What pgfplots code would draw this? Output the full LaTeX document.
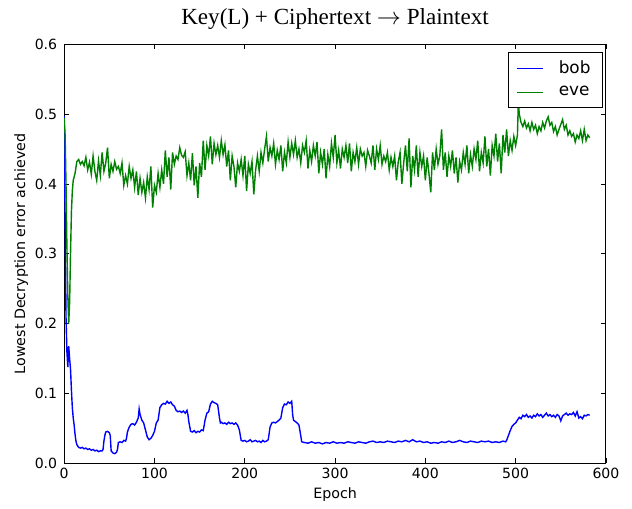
\documentclass[border=0pt]{standalone}
\usepackage{fontspec}
\setmainfont{DejaVu Sans}
\newfontfamily\titlefont{Liberation Serif}
\usepackage{pgfplots}
\pgfplotsset{compat=1.18}
\definecolor{mplblue}{rgb}{0,0,1}
\definecolor{mplgreen}{rgb}{0,0.5,0}
\pgfplotsset{
  legend image code/.code={\draw[mark repeat=2,mark phase=2,#1] plot coordinates {(0cm,0cm) (0.23cm,0cm) (0.46cm,0cm)};},
}
\begin{document}
\begin{tikzpicture}
\begin{axis}[
  scale only axis,
  width=270pt, height=209pt,
  xmin=0, xmax=600, ymin=0, ymax=0.6,
  xtick={0,100,...,600},
  ytick={0,0.1,...,0.6},
  tick align=inside,
  major tick length=2.5pt,
  tick style={black, line width=0.4pt},
  axis line style={line width=0.5pt},
  /pgf/number format/assume math mode=true,
  yticklabel style={/pgf/number format/.cd, fixed, fixed zerofill, precision=1},
  xticklabel style={yshift=1pt},
  ticklabel style={font=\fontsize{7}{8}\selectfont},
  label style={font=\fontsize{7.1}{8}\selectfont},
  xlabel={Epoch},
  xlabel style={yshift=2.5pt},
  ylabel={Lowest Decryption error achieved},
  ylabel style={yshift=-3.5pt},
  title={\titlefont\fontsize{11.5}{13}\selectfont Key(L) + Ciphertext $\rightarrow$ Plaintext},
  title style={yshift=-2pt},
  legend style={at={(1,1)}, anchor=north east, xshift=-1.5pt, yshift=-4pt,
    font=\fontsize{8.4}{10}\selectfont, draw=black,
    inner xsep=4pt, inner ysep=2pt, row sep=1pt,
    nodes={inner sep=2pt},
    /tikz/every odd column/.append style={column sep=5.5pt}},
  legend cell align=left,
]
\addplot[mplblue, line width=0.7pt] coordinates {
(0,0.497)(1,0.35)(2,0.21)(3,0.16)(4,0.138)(5,0.168)(6,0.150)(7,0.135)(8,0.105)(9,0.080)
(10,0.065)(11,0.055)(12,0.042)(13,0.032)(14,0.027)(16,0.023)(18,0.022)(20,0.023)(22,0.021)
(24,0.022)(26,0.020)(28,0.021)(30,0.019)(32,0.020)(34,0.018)(36,0.019)(38,0.017)(40,0.018)
(42,0.018)(43,0.020)(44,0.032)(45,0.040)(46,0.045)(48,0.046)(50,0.044)(51,0.040)(52,0.018)
(54,0.015)(56,0.014)(58,0.016)(59,0.020)(60,0.030)(62,0.031)(64,0.030)(66,0.033)(68,0.032)
(69,0.036)(70,0.045)(72,0.052)(74,0.056)(76,0.057)(78,0.055)(80,0.059)(82,0.065)(83,0.078)
(84,0.070)(86,0.062)(88,0.058)(90,0.048)(92,0.038)(94,0.034)(96,0.036)(98,0.040)(100,0.046)
(102,0.058)(104,0.062)(106,0.080)(108,0.084)(110,0.086)(112,0.085)(114,0.089)(116,0.086)
(118,0.088)(120,0.084)(122,0.082)(124,0.076)(126,0.074)(128,0.075)(130,0.073)(132,0.075)
(134,0.072)(136,0.076)(137,0.070)(138,0.060)(140,0.046)(142,0.045)(144,0.047)(146,0.044)
(148,0.046)(150,0.045)(152,0.048)(154,0.047)(156,0.062)(158,0.072)(160,0.074)(162,0.085)
(164,0.089)(166,0.087)(168,0.086)(170,0.084)(172,0.065)(173,0.058)(174,0.059)(176,0.057)
(178,0.058)(180,0.056)(182,0.059)(184,0.057)(186,0.058)(188,0.056)(190,0.058)(192,0.055)
(194,0.048)(196,0.033)(198,0.032)(200,0.033)(202,0.031)(204,0.032)(206,0.034)(208,0.031)
(210,0.032)(212,0.033)(214,0.031)(216,0.032)(218,0.030)(220,0.033)(222,0.031)(224,0.032)
(226,0.034)(228,0.052)(230,0.058)(232,0.059)(234,0.058)(236,0.060)(238,0.062)(240,0.065)
(242,0.080)(244,0.085)(246,0.084)(248,0.088)(250,0.086)(252,0.089)(253,0.070)(254,0.062)
(256,0.060)(258,0.058)(260,0.055)(262,0.040)(263,0.031)
(266,0.030)(270,0.029)(274,0.031)(278,0.029)(282,0.030)(286,0.028)(290,0.030)(294,0.029)
(298,0.031)(302,0.029)(306,0.030)(310,0.029)(314,0.031)(318,0.030)(322,0.029)(326,0.031)
(330,0.030)(334,0.029)(338,0.031)(342,0.032)(346,0.030)(350,0.031)(354,0.030)(358,0.032)
(362,0.031)(366,0.030)(370,0.032)(374,0.031)(378,0.033)(382,0.031)(386,0.034)(390,0.031)
(394,0.032)(398,0.030)(402,0.031)(406,0.029)(410,0.030)(414,0.029)(418,0.031)(422,0.030)
(426,0.032)(430,0.030)(434,0.031)(438,0.033)(442,0.031)(446,0.030)(450,0.032)(454,0.031)
(458,0.030)(462,0.032)(466,0.031)(470,0.032)(474,0.030)(478,0.031)(482,0.030)(486,0.032)
(489,0.031)(490,0.033)(492,0.040)(494,0.047)(496,0.053)(498,0.056)(500,0.058)(502,0.062)
(504,0.066)(506,0.064)(508,0.069)(510,0.067)(512,0.070)(514,0.066)(516,0.068)(518,0.065)
(520,0.069)(522,0.067)(524,0.071)(526,0.068)(528,0.070)(530,0.066)(532,0.069)(534,0.072)
(536,0.068)(538,0.070)(540,0.067)(542,0.069)(544,0.066)(546,0.070)(548,0.068)(550,0.061)
(552,0.068)(554,0.070)(556,0.072)(558,0.069)(560,0.071)(562,0.070)(564,0.073)(566,0.068)
(568,0.074)(570,0.065)(572,0.067)(574,0.064)(576,0.069)(578,0.068)(580,0.070)(582,0.069)
};
\addlegendentry{bob}
\addplot[mplgreen, line width=0.7pt] coordinates {
(0,0.494)(1,0.47)(2,0.40)(3,0.31)(4,0.24)(5,0.20)(6,0.23)(7,0.30)(8,0.36)(9,0.39)(10,0.405)
(12,0.415)(14,0.432)(16,0.435)(18,0.428)(20,0.432)(22,0.426)(24,0.438)(26,0.420)(28,0.431)
(30,0.414)(32,0.440)(34,0.418)(36,0.405)(38,0.433)(40,0.412)(42,0.445)(44,0.418)(46,0.430)
(48,0.452)(50,0.408)(52,0.428)(54,0.418)(56,0.432)(58,0.421)(60,0.425)(62,0.415)(64,0.430)
(66,0.398)(68,0.412)(70,0.400)(72,0.425)(74,0.408)(76,0.420)(78,0.395)(80,0.418)(82,0.384)
(84,0.408)(86,0.388)(88,0.402)(90,0.380)(92,0.410)(94,0.392)(96,0.425)(98,0.366)(100,0.398)
(102,0.388)(104,0.415)(106,0.395)(108,0.420)(110,0.400)(112,0.448)(114,0.410)(116,0.438)
(118,0.392)(120,0.445)(122,0.428)(124,0.440)(126,0.435)(128,0.452)(130,0.441)(132,0.438)
(134,0.446)(136,0.412)(138,0.430)(140,0.405)(142,0.444)(144,0.398)(146,0.425)(148,0.380)
(150,0.430)(152,0.410)(154,0.462)(156,0.420)(158,0.455)(160,0.440)(162,0.468)(164,0.428)
(166,0.458)(168,0.442)(170,0.455)(172,0.438)(174,0.462)(176,0.442)(178,0.456)(180,0.425)
(182,0.448)(184,0.405)(186,0.440)(188,0.425)(190,0.395)(192,0.430)(194,0.418)(196,0.435)
(198,0.412)(200,0.440)(202,0.390)(204,0.428)(206,0.415)(208,0.432)(210,0.385)(212,0.420)
(214,0.440)(216,0.418)(218,0.445)(220,0.430)(222,0.450)(224,0.468)(226,0.432)(228,0.452)
(230,0.440)(232,0.458)(234,0.428)(236,0.448)(238,0.435)(240,0.455)(242,0.418)(244,0.445)
(246,0.430)(248,0.460)(250,0.438)(252,0.458)(254,0.442)(256,0.462)(258,0.438)(260,0.450)
(262,0.430)(264,0.455)(266,0.445)(268,0.462)(270,0.422)(272,0.448)(274,0.432)(276,0.455)
(278,0.440)(280,0.460)(282,0.415)(284,0.445)(286,0.428)(288,0.450)(290,0.408)(292,0.442)
(294,0.425)(296,0.458)(298,0.438)(300,0.470)(302,0.430)(304,0.448)(306,0.422)(308,0.450)
(310,0.438)(312,0.455)(314,0.430)(316,0.458)(318,0.418)(320,0.445)(322,0.432)(324,0.452)
(326,0.428)(328,0.450)(330,0.440)(332,0.445)(334,0.425)(336,0.448)(338,0.440)(340,0.430)
(342,0.455)(344,0.420)(346,0.450)(348,0.435)(350,0.455)(352,0.428)(354,0.440)(356,0.432)
(358,0.445)(360,0.420)(362,0.438)(364,0.425)(366,0.440)(368,0.405)(370,0.432)(372,0.445)
(374,0.400)(376,0.430)(378,0.455)(380,0.418)(382,0.465)(384,0.395)(386,0.440)(388,0.420)
(390,0.455)(392,0.410)(394,0.445)(396,0.425)(398,0.440)(400,0.405)(402,0.438)(404,0.415)
(406,0.388)(408,0.445)(410,0.420)(412,0.450)(414,0.428)(416,0.440)(418,0.478)(420,0.420)
(422,0.445)(424,0.410)(426,0.440)(428,0.425)(430,0.448)(432,0.415)(434,0.438)(436,0.402)
(438,0.432)(440,0.420)(442,0.445)(444,0.428)(446,0.455)(448,0.415)(450,0.442)(452,0.425)
(454,0.450)(456,0.435)(458,0.462)(460,0.418)(462,0.445)(464,0.430)(466,0.468)(468,0.425)
(470,0.450)(472,0.412)(474,0.455)(476,0.440)(478,0.472)(480,0.432)(482,0.458)(484,0.415)
(486,0.470)(488,0.445)(490,0.478)(492,0.440)(494,0.462)(496,0.448)(498,0.468)(500,0.455)
(502,0.470)(503,0.518)(504,0.500)(506,0.488)(508,0.482)(510,0.490)(512,0.480)(514,0.486)
(516,0.476)(518,0.488)(520,0.478)(522,0.484)(524,0.472)(526,0.482)(528,0.476)(530,0.488)
(532,0.480)(534,0.490)(536,0.496)(538,0.484)(540,0.488)(542,0.475)(544,0.482)(546,0.470)
(548,0.478)(550,0.485)(552,0.492)(554,0.478)(556,0.484)(558,0.470)(560,0.476)(562,0.468)
(564,0.472)(566,0.460)(568,0.470)(570,0.465)(572,0.476)(574,0.462)(576,0.478)(578,0.462)
(580,0.470)(582,0.466)
};
\addlegendentry{eve}
\end{axis}
\path (current axis.south west) ++(-32pt,-22pt) coordinate (bbA);
\path (current axis.north east) ++(13pt,22pt) coordinate (bbB);
\path (bbA) rectangle (bbB);
\end{tikzpicture}
\end{document}
